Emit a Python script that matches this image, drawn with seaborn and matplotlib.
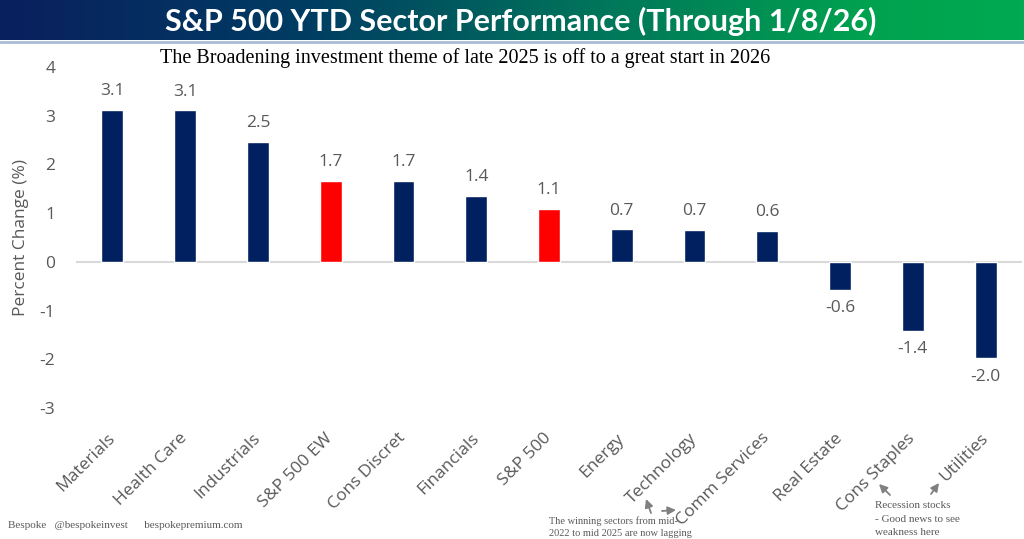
import numpy as np
import pandas as pd
import matplotlib
matplotlib.use('Agg')
import matplotlib.pyplot as plt
from matplotlib.colors import LinearSegmentedColormap
from matplotlib.patches import FancyArrowPatch
import seaborn as sns

# data
sectors = ['Materials', 'Health Care', 'Industrials', 'S&P 500 EW', 'Cons Discret',
           'Financials', 'S&P 500', 'Energy', 'Technology', 'Comm Services',
           'Real Estate', 'Cons Staples', 'Utilities']
ytd_change = [3.12, 3.11, 2.47, 1.67, 1.66, 1.36, 1.09, 0.67, 0.65, 0.63, -0.57, -1.41, -1.98]
highlight = ['S&P 500 EW', 'S&P 500']
y_ticks = [4, 3, 2, 1, 0, -1, -2, -3]

NAVY = '#002060'
RED = '#ff0000'
GRAY = '#595959'


def main():
    df = pd.DataFrame({'sector': sectors, 'change': ytd_change})
    colors = [RED if s in highlight else NAVY for s in sectors]

    sns.set_theme(style='white')
    plt.rcParams['font.family'] = ['Open Sans', 'DejaVu Sans']

    fig = plt.figure(figsize=(10.24, 5.39), dpi=100)

    # gradient title banner
    banner = fig.add_axes([0, 1 - 40 / 539, 1, 40 / 539])
    cmap = LinearSegmentedColormap.from_list(
        'banner', [(0, '#0a1f5e'), (0.3, '#003d63'), (0.6, '#00785a'),
                   (0.85, '#00a24f'), (1, '#00aa52')])
    banner.imshow(np.linspace(0, 1, 256).reshape(1, -1), aspect='auto', cmap=cmap,
                  extent=[0, 1, 0, 1])
    banner.set_axis_off()
    banner.text(0.508, 0.47, 'S&P 500 YTD Sector Performance (Through 1/8/26)',
                color='white', fontsize=22, fontweight='bold', family='Lato',
                ha='center', va='center')
    fig.add_artist(plt.Line2D([0, 1], [1 - 42 / 539] * 2, color='#a9bcd6', lw=2))

    ax = fig.add_axes([76 / 1024, 1 - 408 / 539, 946 / 1024, 341 / 539])
    sns.barplot(data=df, x='sector', y='change', hue='sector', palette=colors,
                legend=False, width=0.3, saturation=1, ax=ax)
    ax.set_ylim(-3, 4)
    ax.set_xlim(-0.5, len(sectors) - 0.5)
    ax.set_yticks(y_ticks)
    ax.set_yticklabels([str(t) for t in y_ticks], color=GRAY, fontsize=12.5)
    ax.tick_params(axis='y', length=0, pad=15)
    ax.tick_params(axis='x', length=0, pad=20)
    for lab in ax.get_xticklabels():
        lab.set_rotation(45)
        lab.set_ha('right')
        lab.set_va('center')
        lab.set_rotation_mode('anchor')
        lab.set_color(GRAY)
        lab.set_fontsize(12.5)
    ax.set_xlabel('')
    ax.set_ylabel('Percent Change (%)', color=GRAY, fontsize=12.5)
    ax.yaxis.set_label_coords(-0.05, 0.5)
    sns.despine(ax=ax, left=True, bottom=True)
    ax.axhline(0, color='#d9d9d9', lw=1.5, zorder=0)

    for i, v in enumerate(ytd_change):
        off = 0.22 if v > 0 else -0.22
        ax.text(i, v + off, f'{v:.1f}', ha='center',
                va='bottom' if v > 0 else 'top', color=GRAY, fontsize=12.5)

    fig.text(160 / 1024, 1 - 58 / 539,
             'The Broadening investment theme of late 2025 is off to a great start in 2026',
             family='Liberation Serif', fontsize=14.5, color='black', va='center')

    fig.text(8 / 1024, 1 - 526 / 539,
             'Bespoke   @bespokeinvest      bespokepremium.com',
             family='Liberation Serif', fontsize=8, color=GRAY, va='center')
    fig.text(549 / 1024, 1 - 527 / 539,
             'The winning sectors from mid-\n2022 to mid 2025 are now lagging',
             family='Liberation Serif', fontsize=7.5, color=GRAY, va='center',
             linespacing=1.35)
    fig.text(875 / 1024, 1 - 519 / 539,
             'Recession stocks\n- Good news to see\nweakness here',
             family='Liberation Serif', fontsize=8, color=GRAY, va='center',
             linespacing=1.65)

    arrows = [((651, 513), (646, 499)), ((662, 511), (676, 510)),
              ((890, 495), (879, 484)), ((931, 494), (939, 483))]
    for (x0, y0), (x1, y1) in arrows:
        fig.add_artist(FancyArrowPatch(
            (x0 / 1024, 1 - y0 / 539), (x1 / 1024, 1 - y1 / 539),
            transform=fig.transFigure, arrowstyle='-|>', mutation_scale=12,
            shrinkA=0, shrinkB=0, color='#808080', lw=1.3))

    fig.savefig('out.png', dpi=100)


if __name__ == '__main__':
    main()
